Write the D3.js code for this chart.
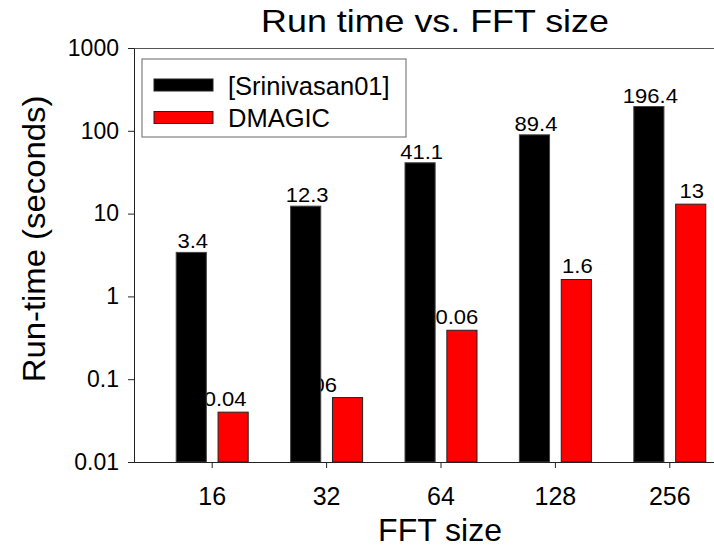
<!DOCTYPE html>
<html>
<head>
<meta charset="utf-8">
<script src="https://cdn.jsdelivr.net/npm/d3@7"></script>
<style>
  body { margin: 0; background: #fff; }
  svg { display: block; font-family: "Liberation Sans", Arial, sans-serif; }
</style>
</head>
<body>
<svg width="714" height="553"></svg>
<script>
// data
const fftSizes = ['16', '32', '64', '128', '256']
const srinivasan = [3.4, 12.3, 41.1, 89.4, 196.4]
const dmagic = [0.04, 0.06, 0.39, 1.6, 13]
const srinivasanLabels = ['3.4', '12.3', '41.1', '89.4', '196.4']
const dmagicLabels = ['0.04', '0.06', '0.06', '1.6', '13']
const seriesNames = ['[Srinivasan01]', 'DMAGIC']
const seriesColors = ['#000000', '#ff0000']
const yTicks = [0.01, 0.1, 1, 10, 100, 1000]
const yTickLabels = ['0.01', '0.1', '1', '10', '100', '1000']

const svg = d3.select('svg')
const plotLeft = 134, plotTop = 48, plotBottom = 462, plotRight = 730

const x = d3.scaleBand().domain(fftSizes).range([155, 727]).padding(0)
const inner = d3.scaleBand().domain([0, 1]).range([-36, 36]).paddingInner(0.28)
const y = d3.scaleLog().domain([0.01, 1000]).range([plotBottom, plotTop])

// label nudges for the small red values (they sit partly behind the black bars)
const redLabelDx = [-8, -32, -5, 1, 1]

const series = [srinivasan, dmagic]
const seriesLabels = [srinivasanLabels, dmagicLabels]

// frame top line
svg.append('line')
  .attr('x1', plotLeft).attr('x2', plotRight)
  .attr('y1', plotTop + 0.5).attr('y2', plotTop + 0.5)
  .attr('stroke', '#555').attr('stroke-width', 1)

// value labels (drawn before bars so bars cover them)
seriesLabels.forEach((labels, s) => {
  svg.append('g')
    .selectAll('text')
    .data(labels)
    .enter()
    .append('text')
    .attr('transform', (d, i) => {
      const cx = x(fftSizes[i]) + x.bandwidth() / 2 + inner(s) + inner.bandwidth() / 2
        + (s === 1 ? redLabelDx[i] : 1.5)
      const cy = y(series[s][i]) - (s === 1 ? 6 : 4)
      return `translate(${cx},${cy}) scale(1.1,1)`
    })
    .attr('text-anchor', 'middle')
    .attr('font-size', 20)
    .attr('fill', '#000')
    .text(d => d)
})

// bars
series.forEach((values, s) => {
  svg.append('g')
    .selectAll('rect')
    .data(values)
    .enter()
    .append('rect')
    .attr('x', (d, i) => x(fftSizes[i]) + x.bandwidth() / 2 + inner(s))
    .attr('y', d => y(d))
    .attr('width', inner.bandwidth())
    .attr('height', d => plotBottom - y(d))
    .attr('fill', seriesColors[s])
    .attr('stroke', s === 1 ? '#222' : '#444')
    .attr('stroke-width', 1)
})

// y axis
const yAxis = svg.append('g')
  .attr('transform', `translate(${plotLeft},0)`)
  .call(d3.axisLeft(y)
    .tickValues(yTicks)
    .tickFormat((d, i) => yTickLabels[i])
    .tickSize(6)
    .tickSizeOuter(0)
    .tickPadding(9))
yAxis.select('.domain').attr('stroke', '#222')
yAxis.selectAll('.tick line').attr('stroke', '#222')
yAxis.selectAll('.tick text')
  .attr('font-size', 23)
  .attr('fill', '#000')
  .attr('font-family', '"Liberation Sans", Arial, sans-serif')

// x axis
const xAxis = svg.append('g')
  .attr('transform', `translate(0,${plotBottom})`)
  .call(d3.axisBottom(x).tickSize(6).tickSizeOuter(0).tickPadding(19))
xAxis.select('.domain').attr('d', `M${plotLeft},0.5H${plotRight}`).attr('stroke', '#222')
xAxis.selectAll('.tick line').attr('stroke', '#222')
xAxis.selectAll('.tick text')
  .attr('font-size', 25)
  .attr('fill', '#000')
  .attr('font-family', '"Liberation Sans", Arial, sans-serif')

// titles
svg.append('text')
  .attr('transform', 'translate(435,32) scale(1.12,1)')
  .attr('text-anchor', 'middle')
  .attr('font-size', 32)
  .text('Run time vs. FFT size')

svg.append('text')
  .attr('transform', 'translate(440,541)')
  .attr('text-anchor', 'middle')
  .attr('font-size', 32)
  .text('FFT size')

svg.append('text')
  .attr('transform', 'translate(45,239) rotate(-90) scale(1.06,1)')
  .attr('text-anchor', 'middle')
  .attr('font-size', 31)
  .text('Run-time (seconds)')

// legend
const legend = svg.append('g').attr('transform', 'translate(142,59)')
legend.append('rect')
  .attr('width', 264).attr('height', 78)
  .attr('fill', '#fff').attr('stroke', '#666').attr('stroke-width', 1)
const items = legend.selectAll('g.item')
  .data(seriesNames)
  .enter()
  .append('g')
  .attr('class', 'item')
  .attr('transform', (d, i) => `translate(12,${20 + i * 32.5})`)
items.append('rect')
  .attr('width', 59).attr('height', 12)
  .attr('fill', (d, i) => seriesColors[i])
  .attr('stroke', '#222').attr('stroke-width', 1)
items.append('text')
  .attr('x', 74).attr('y', 15.5)
  .attr('font-size', 25.5)
  .text(d => d)
</script>
</body>
</html>
